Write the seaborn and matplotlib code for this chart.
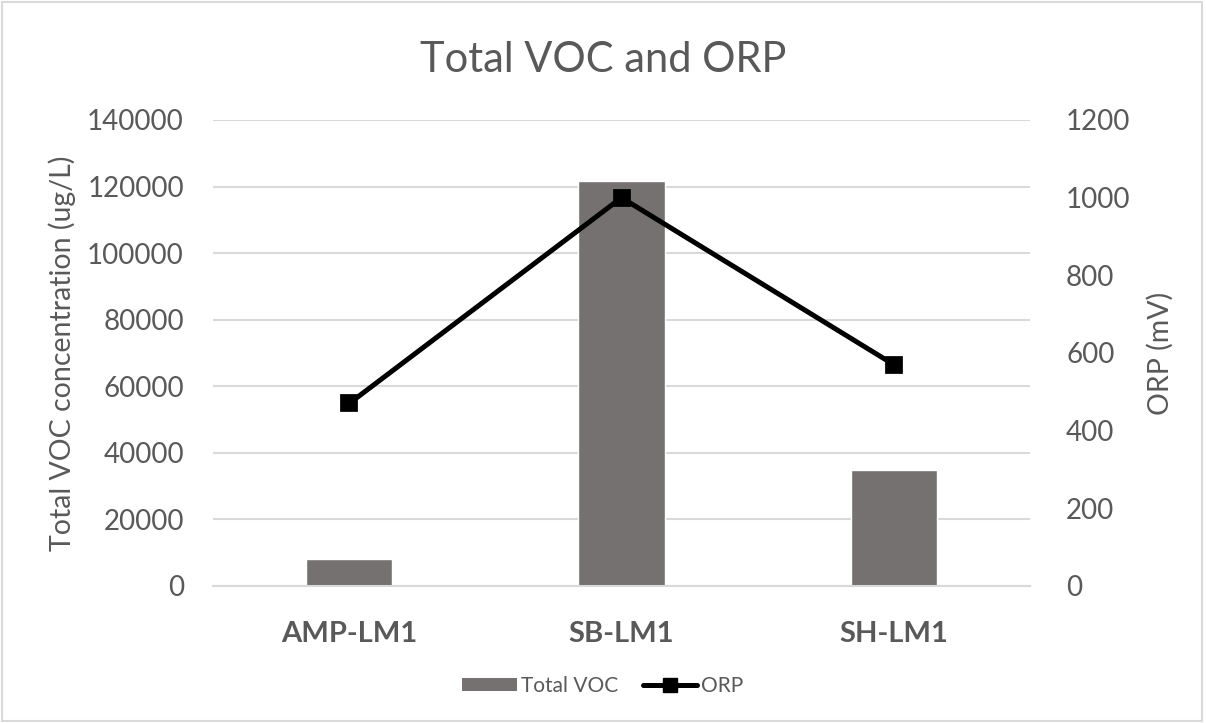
import matplotlib
matplotlib.use("Agg")
import matplotlib.pyplot as plt
import seaborn as sns
import pandas as pd
from matplotlib.patches import Patch, Rectangle
from matplotlib.lines import Line2D

categories = ["AMP-LM1", "SB-LM1", "SH-LM1"]
total_voc = [8000, 121700, 35000]
orp = [470, 1000, 570]
left_ticks = [0, 20000, 40000, 60000, 80000, 100000, 120000, 140000]
right_ticks = [0, 200, 400, 600, 800, 1000, 1200]

sns.set_theme(style="white")
plt.rcParams['font.family'] = ['Lato', 'DejaVu Sans']

TXT = "#595959"
GRID = "#d9d9d9"
BAR = "#767171"

df = pd.DataFrame({"cat": categories, "voc": total_voc, "orp": orp})

fig = plt.figure(figsize=(12.06, 7.23), dpi=100)
ax = fig.add_axes([213/1206, 1-586/723, (1030-213)/1206, (586-120)/723])

sns.barplot(data=df, x="cat", y="voc", ax=ax, color=BAR, width=0.316, saturation=1)
ax.set_ylim(0, 140000)
ax.set_yticks(left_ticks)
ax.set_yticklabels([str(t) for t in left_ticks])
ax.yaxis.grid(True, color=GRID, linewidth=1.5)
ax.set_axisbelow(True)
for s in ax.spines.values():
    s.set_visible(False)
ax.spines['bottom'].set_visible(True)
ax.spines['bottom'].set_color(GRID)
ax.spines['bottom'].set_linewidth(1.5)
ax.tick_params(axis='y', length=0, colors=TXT, labelsize=20, pad=21)
ax.tick_params(axis='x', length=0, colors=TXT, labelsize=20, pad=25)
for lab in ax.get_xticklabels():
    lab.set_fontweight('bold')
    lab.set_fontsize(21)
ax.set_xlabel("")
ax.set_ylabel("Total VOC concentration (ug/L)", color=TXT, fontsize=20.5, labelpad=8)

ax2 = ax.twinx()
sns.pointplot(data=df, x="cat", y="orp", ax=ax2, color="black", markers="s",
              markersize=10, linewidth=3.6, errorbar=None)
ax2.set_ylim(0, 1200)
ax2.set_yticks(right_ticks)
ax2.set_yticklabels([str(t) for t in right_ticks])
for s in ax2.spines.values():
    s.set_visible(False)
ax2.tick_params(axis='y', length=0, colors=TXT, labelsize=20, pad=26)
ax2.set_ylabel("ORP (mV)", color=TXT, fontsize=20.5, labelpad=12)
ax2.grid(False)
ax.set_xlim(-0.5, 2.5)

fig.text(0.5, 1-60/723, "Total VOC and ORP", ha="center", va="center",
         fontsize=30, color=TXT)

handles = [Patch(facecolor=BAR, edgecolor='none', label="Total VOC"),
           Line2D([], [], color="black", linewidth=3.6, marker="s", markersize=10, label="ORP")]
fig.legend(handles=handles, loc="center", bbox_to_anchor=(0.5, 1-686/723), ncol=2,
           frameon=False, fontsize=15, labelcolor=TXT, handlelength=2.6,
           handleheight=0.6, columnspacing=1.2, handletextpad=0.2)

fig.add_artist(Rectangle((0.002, 0.003), 0.995, 0.994, transform=fig.transFigure,
                         fill=False, edgecolor=GRID, linewidth=1.5))

fig.savefig("out.png", dpi=100, facecolor="white")
